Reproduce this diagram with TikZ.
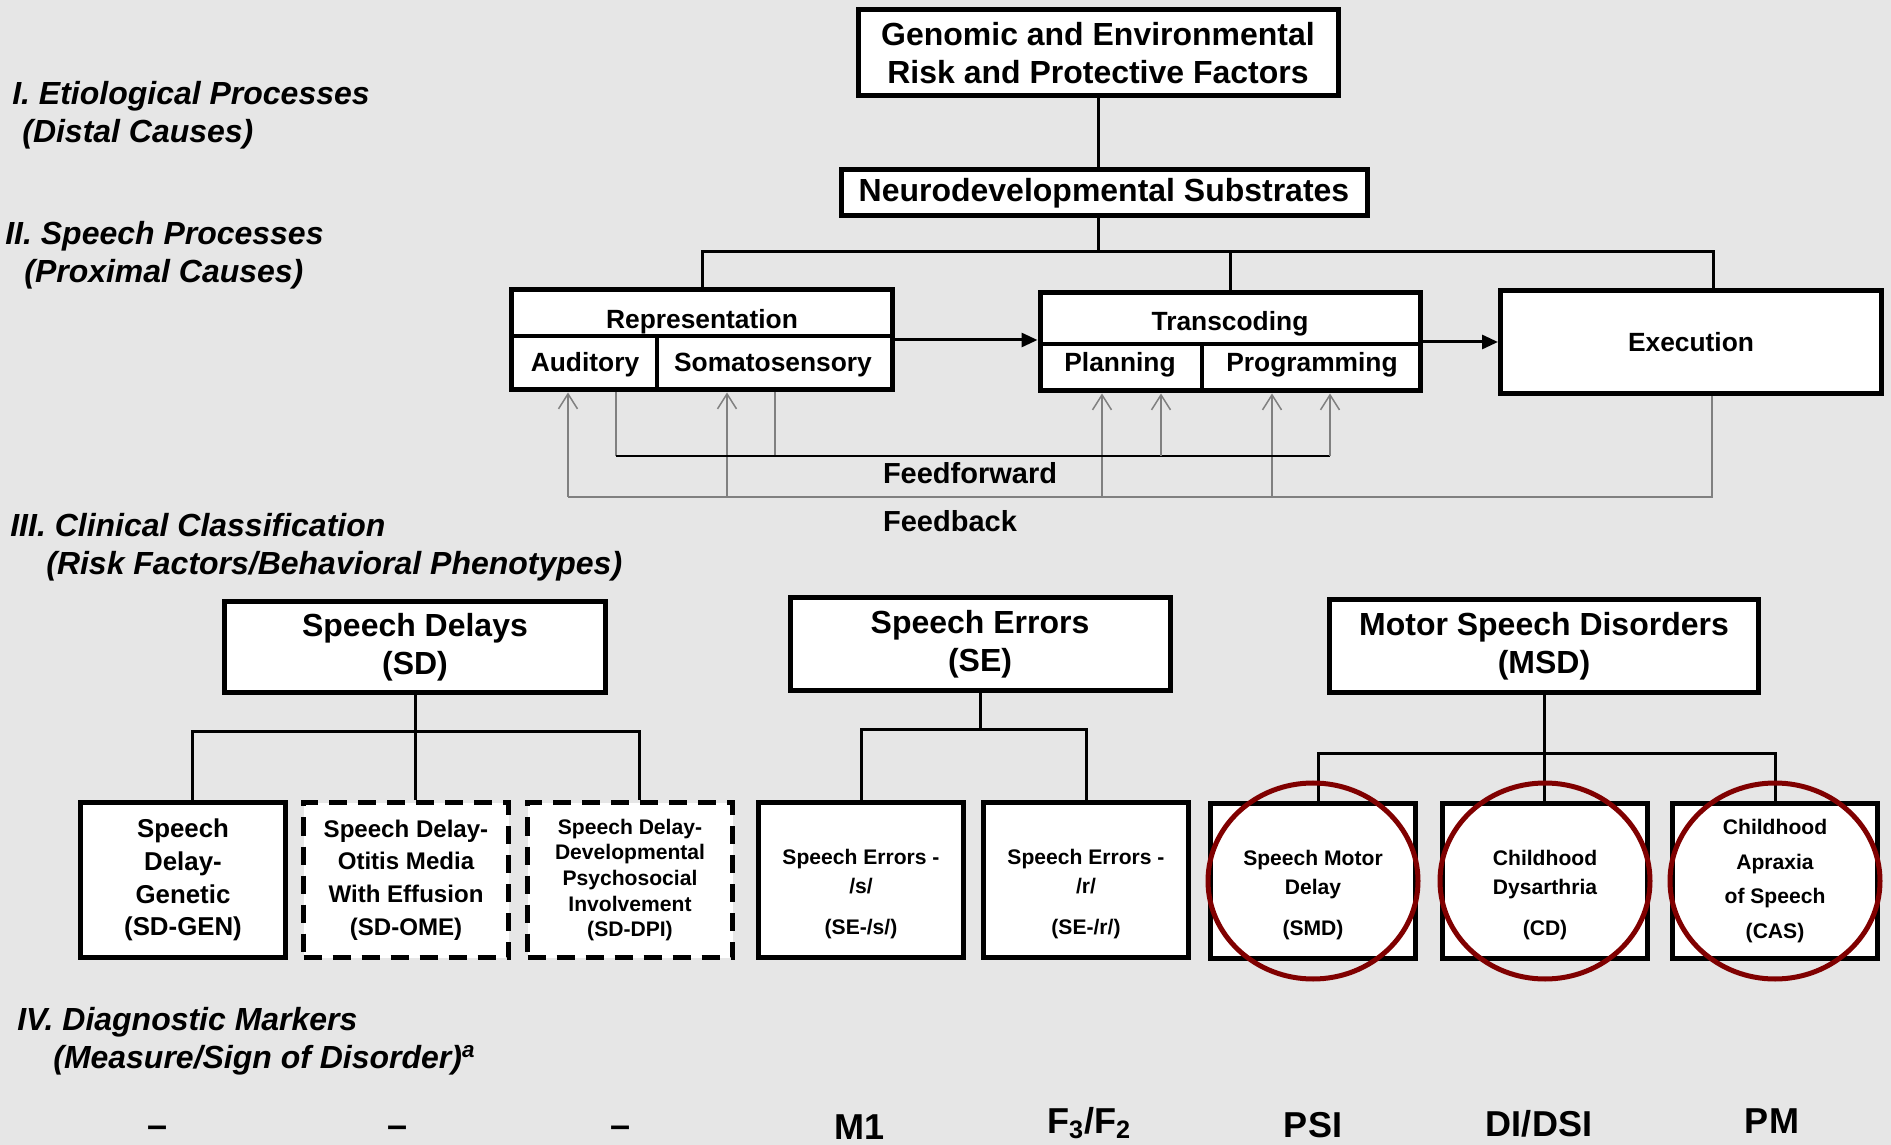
\documentclass[tikz,border=0pt]{standalone}
\usepackage{fontspec}
\setmainfont{Liberation Sans}
\usetikzlibrary{positioning, arrows.meta}

\definecolor{bggray}{RGB}{230,230,230}
\definecolor{ringred}{RGB}{128,0,0}
\definecolor{loopgray}{RGB}{128,128,128}

\newcommand{\fsHead}{\fontsize{18.2pt}{21.8pt}\selectfont\bfseries}
\newcommand{\fsLevel}{\fontsize{18.2pt}{21.6pt}\selectfont\bfseries\itshape}
\newcommand{\fsProc}{\fontsize{15pt}{18pt}\selectfont\bfseries}
\newcommand{\fsLoop}{\fontsize{16.5pt}{19pt}\selectfont\bfseries}
\newcommand{\fsGen}{\fontsize{14.7pt}{18.6pt}\selectfont\bfseries}
\newcommand{\fsOme}{\fontsize{13.7pt}{18.6pt}\selectfont\bfseries}
\newcommand{\fsDpi}{\fontsize{12pt}{14.6pt}\selectfont\bfseries}
\newcommand{\fsLeaf}{\fontsize{12pt}{16.8pt}\selectfont\bfseries}
\newcommand{\fsCas}{\fontsize{12pt}{19.7pt}\selectfont\bfseries}
\newcommand{\fsMark}{\fontsize{20.5pt}{24pt}\selectfont\bfseries}
\newcommand{\lowstrut}{\rule{0pt}{8.6mm}}

\begin{document}
\begin{tikzpicture}[x=0.2mm, y=-0.2mm]
        \tikzstyle{box} = [rectangle, draw=black, line width=1mm, fill=white, inner sep=0pt, align=center, font=\fsHead]
        \tikzstyle{procbox} = [box, font=\fsProc]
        \tikzstyle{leafbox} = [box, minimum width=41mm, minimum height=31mm]
        \tikzstyle{dashbox} = [leafbox, dash pattern=on 3.6mm off 2.2mm]
        \tikzstyle{link} = [line width=0.6mm]
        \tikzstyle{arrow} = [line width=0.6mm, -{Triangle[length=3.2mm, width=2.8mm]}]
        \tikzstyle{divider} = [line width=0.7mm]
        \tikzstyle{fbline} = [line width=0.3mm, draw=loopgray]
        \tikzstyle{fbarrow} = [fbline, -{Straight Barb[length=3mm, width=3.8mm]}]
        \tikzstyle{lvltext} = [anchor=north west, inner sep=0pt, align=left, font=\fsLevel]
        \tikzstyle{proctext} = [anchor=base, inner sep=0pt, font=\fsProc]
        \tikzstyle{looptext} = [inner sep=0pt, font=\fsLoop]
        \tikzstyle{markertext} = [anchor=base, inner sep=0pt, font=\fsMark]
        \tikzstyle{ring} = [draw=ringred, line width=1mm]

        % page
        \fill[bggray] (0,0) rectangle (1891,1145);
        \useasboundingbox (0,0) rectangle (1891,1145);

        % level headings
        \node[lvltext] (lvletio) at (12,81) {I. Etiological Processes\\\hspace*{2mm}(Distal Causes)};
        \node[lvltext] (lvlspeech) at (5,221) {II. Speech Processes\\\hspace*{3.8mm}(Proximal Causes)};
        \node[lvltext] (lvlclin) at (10,513) {III. Clinical Classification\\\hspace*{7.2mm}(Risk Factors/Behavioral Phenotypes)};
        \node[lvltext] (lvldiag) at (17,1007) {IV. Diagnostic Markers\\\hspace*{7.2mm}(Measure/Sign of Disorder)\textsuperscript{a}};

        % causes
        \node[box, minimum width=96mm, minimum height=17.2mm] (genomic) at (1098,53) {Genomic and Environmental\\Risk and Protective Factors};
        \node[box, minimum width=105.2mm, minimum height=9.2mm] (neuro) at (1104,193) {Neurodevelopmental Substrates};

        % speech processes
        \node[procbox, minimum width=76.2mm, minimum height=20mm] (rep) at (702,340) {};
        \node[proctext] (reptitle) at (702,329) {Representation};
        \node[proctext] (aud) at (585,372) {Auditory};
        \node[proctext] (soma) at (773,372) {Somatosensory};
        \draw[divider] (rep.west |- 0,336) -- (rep.east |- 0,336);
        \draw[divider] (657,336) -- (657,0 |- rep.south);

        \node[procbox, minimum width=76mm, minimum height=19.6mm] (trans) at (1230,342) {};
        \node[proctext] (transtitle) at (1230,331) {Transcoding};
        \node[proctext] (plan) at (1120,372) {Planning};
        \node[proctext] (prog) at (1312,372) {Programming};
        \draw[divider] (trans.west |- 0,344) -- (trans.east |- 0,344);
        \draw[divider] (1202,344) -- (1202,0 |- trans.south);

        \node[procbox, minimum width=76.2mm, minimum height=20.6mm] (exec) at (1691,342) {Execution};

        \draw[link] (genomic.south) -- (genomic.south |- neuro.north);
        \draw[link] (genomic.south |- neuro.south) -- ++(0,33) coordinate (procbus);
        \coordinate (execin) at ([xshift=4.4mm]exec.north);
        \draw[link] (rep.north) |- (execin |- procbus) -- (execin);
        \draw[link] (trans.north) -- (trans.north |- procbus);

        \draw[arrow] (rep.east) -- (rep.east -| trans.west);
        \draw[arrow] (trans.east) -- (trans.east -| exec.west);

        % feedback and feedforward
        \coordinate (fbleft) at (568,497);
        \coordinate (fbright) at (1712,497);
        \coordinate (ffleft) at (616,456);
        \coordinate (ffright) at (1330,456);
        \draw[fbline] (fbright |- exec.south) -- (fbright) -- (fbleft);
        \foreach \x/\tgt in {568/rep, 727/rep, 1102/trans, 1272/trans}
            \draw[fbarrow] (\x,497) -- (\x,0 |- \tgt.south);
        \draw[fbline] (ffleft |- rep.south) -- (ffleft);
        \draw[fbline] (775,0 |- rep.south) -- (775,456);
        \draw[fbline, draw=black] (ffleft) -- (ffright);
        \foreach \x in {1161,1330}
            \draw[fbarrow] (\x,456) -- (\x,0 |- trans.south);
        \node[looptext] (ffwdlabel) at (970,473) {Feedforward};
        \node[looptext] (fbacklabel) at (950,521) {Feedback};

        % clinical classification
        \node[box, minimum width=76.2mm, minimum height=18.2mm] (sd) at (415,647) {Speech Delays\\(SD)};
        \node[box, minimum width=76mm, minimum height=18.6mm] (se) at (980,644) {Speech Errors\\(SE)};
        \node[box, minimum width=85.8mm, minimum height=18.6mm] (msd) at (1544,646) {Motor Speech Disorders\\(MSD)};

        \node[leafbox, font=\fsGen] (sdgen) at (183,880) {Speech\\Delay-\\Genetic\\(SD-GEN)};
        \node[dashbox, font=\fsOme] (sdome) at (406,880) {Speech Delay-\\Otitis Media\\With Effusion\\(SD-OME)};
        \node[dashbox, font=\fsDpi] (sddpi) at (630,880) {Speech Delay-\\Developmental\\Psychosocial\\Involvement\\(SD-DPI)};
        \node[leafbox, font=\fsLeaf] (ses) at (861,880) {\lowstrut Speech Errors -\\/s/\\[6.5pt](SE-/s/)};
        \node[leafbox, font=\fsLeaf] (ser) at (1086,880) {\lowstrut Speech Errors -\\/r/\\[6.5pt](SE-/r/)};
        \node[leafbox, font=\fsLeaf] (smd) at (1313,881) {\lowstrut Speech Motor\\Delay\\[6.5pt](SMD)};
        \node[leafbox, font=\fsLeaf] (cd) at (1545,881) {\lowstrut Childhood\\Dysarthria\\[6.5pt](CD)};
        \node[leafbox, font=\fsCas] (cas) at (1775,881) {Childhood\\Apraxia\\of Speech\\(CAS)};

        \draw[link] (sd.south) -- ++(0,36) coordinate (sdbus);
        \coordinate (sdgenin) at ([xshift=1.9mm]sdgen.north);
        \coordinate (sddpiin) at ([xshift=1.8mm]sddpi.north);
        \draw[link] (sdgenin) |- (sdbus) -| (sddpiin);
        \draw[link] (sdbus) -- (sdbus |- sdome.north);

        \draw[link] (se.south) -- ++(0,36) coordinate (sebus);
        \draw[link] (ses.north) |- (sebus) -| (ser.north);

        \draw[link] (msd.south) -- ++(0,58) coordinate (msdbus);
        \coordinate (smdin) at ([xshift=1mm]smd.north);
        \draw[link] (smdin) |- (msdbus) -| (cas.north);
        \draw[link] (msdbus) -- (msdbus |- cd.north);

        \foreach \n in {smd, cd, cas}
            \draw[ring] (\n.center) ellipse [x radius=21mm, y radius=19.6mm];

        % diagnostic markers
        \node[markertext] (mkgen) at (158,1137) {\textendash};
        \node[markertext] (mkome) at (398,1137) {\textendash};
        \node[markertext] (mkdpi) at (621,1137) {\textendash};
        \node[markertext] (mkses) at (860,1139) {M1};
        \node[markertext] (mkser) at (1089,1133) {F\textsubscript{3}/F\textsubscript{2}};
        \node[markertext] (mksmd) at (1313,1137) {PSI};
        \node[markertext] (mkcd) at (1539,1136) {DI/DSI};
        \node[markertext] (mkcas) at (1772,1133) {PM};
\end{tikzpicture}
\end{document}
